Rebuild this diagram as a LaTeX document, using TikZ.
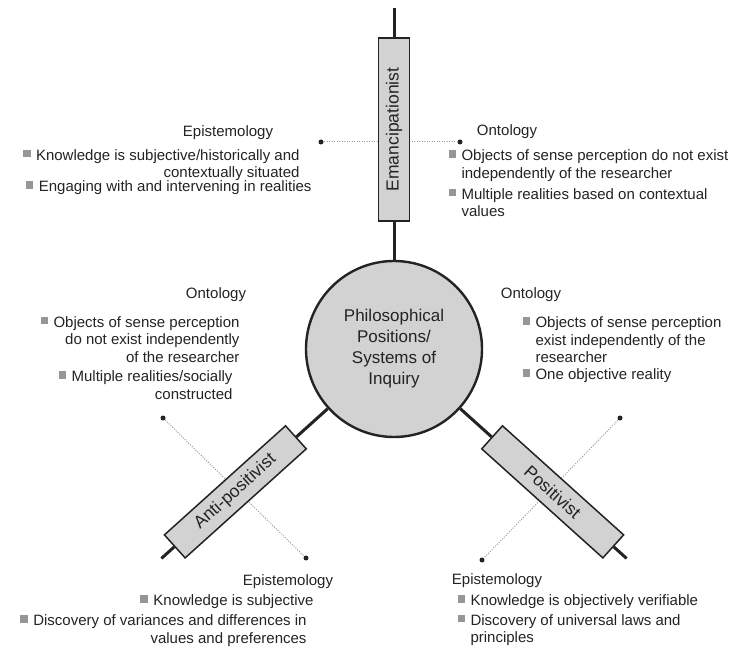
\documentclass[tikz,border=0pt]{standalone}
\usepackage{fontspec}
\setmainfont{Liberation Sans}
\usetikzlibrary{positioning, calc}
\definecolor{hubgray}{RGB}{210,210,210}
\definecolor{sqgray}{RGB}{150,150,150}
\definecolor{ink}{RGB}{35,35,35}
\newcommand{\Sq}{\textcolor{sqgray}{\rule[3pt]{7.5pt}{7.5pt}}\hspace{5.5pt}}
\newcommand{\SqGap}{\phantom{\Sq}}
\tikzset{
  every picture/.style={line width=1pt},
  hub/.style={draw=ink, circle, fill=hubgray, line width=2.4pt, minimum size=176pt, inner sep=0pt, align=center, text=ink, font=\fontsize{17}{21}\selectfont},
  pbox/.style={draw=ink, rectangle, fill=hubgray, line width=1.5pt, minimum height=31pt, inner sep=0pt, text=ink, font=\fontsize{17.5}{20}\selectfont},
  arm/.style={draw=ink, line width=3pt},
  dot/.style={circle, fill=ink, inner sep=0pt, minimum size=5pt},
  dotline/.style={draw=gray!80, dash pattern=on 1pt off 1.5pt, line width=1pt},
  head/.style={inner sep=0pt, text=ink, font=\fontsize{15}{17.5}\selectfont},
  item/.style={inner sep=0pt, text=ink, font=\fontsize{15}{17.5}\selectfont}
}

\begin{document}
\begin{tikzpicture}[x=1pt, y=1pt]
    \useasboundingbox (0,0) rectangle (738,648);

    \node [hub] (hub) at (394,299) {Philosophical\\Positions/\\Systems of\\Inquiry};

    % dotted crossings, under the boxes
    \node [dot] (ed1) at (321,506) {};
    \node [dot] (ed2) at (460,506) {};
    \node [dot] (ad1) at (163,230) {};
    \node [dot] (ad2) at (306,90) {};
    \node [dot] (pd1) at (620,230) {};
    \node [dot] (pd2) at (482,88) {};
    \draw [dotline] (ed1) -- (ed2);
    \draw [dotline] (ad1) -- (ad2);
    \draw [dotline] (pd1) -- (pd2);

    \node [pbox, minimum width=183pt, rotate=90] (emb) at ($(hub)+(90:219.5)$) {Emancipationist};
    \node [pbox, minimum width=163pt, rotate=42] (anti) at ($(hub)+(222:213.5)$) {Anti-positivist};
    \node [pbox, minimum width=163pt, rotate=-42] (pos) at ($(hub)+(318:213.5)$) {Positivist};

    \coordinate (etop) at ($(hub)+(90:341)$);
    \coordinate (aend) at ($(hub)+(222:313)$);
    \coordinate (pend) at ($(hub)+(318:313)$);

    \draw [arm] (hub) -- (emb);
    \draw [arm] (emb) -- (etop);
    \draw [arm] (hub) -- (anti);
    \draw [arm] (anti) -- (aend);
    \draw [arm] (hub) -- (pos);
    \draw [arm] (pos) -- (pend);

    % Emancipationist
    \node [head] (eh1) at (228,515) {Epistemology};
    \node [item, align=right, anchor=east] (e1a) at (300,483) {\Sq Knowledge is subjective/historically and\\contextually situated};
    \node [item, anchor=east] (e1b) at (312,460) {\Sq Engaging with and intervening in realities};
    \node [head] (oh1) at (507,516) {Ontology};
    \node [item, align=left, anchor=west] (o1a) at (448,482.5) {\Sq Objects of sense perception do not exist\\\SqGap independently of the researcher};
    \node [item, align=left, anchor=west] (o1b) at (448,445.5) {\Sq Multiple realities based on contextual\\\SqGap values};

    % Positivist
    \node [head] (oh2) at (531,353) {Ontology};
    \node [item, align=left, anchor=west] (o2a) at (522,308) {\Sq Objects of sense perception\\\SqGap exist independently of the\\\SqGap researcher};
    \node [item, anchor=west] (o2b) at (522,272) {\Sq One objective reality};
    \node [head] (eh2) at (497,67) {Epistemology};
    \node [item, anchor=west] (e2a) at (457,46) {\Sq Knowledge is objectively verifiable};
    \node [item, align=left, anchor=west] (e2b) at (457,18) {\Sq Discovery of universal laws and\\\SqGap principles};

    % Anti-positivist
    \node [head] (oh3) at (216,353) {Ontology};
    \node [item, align=right, anchor=east] (o3a) at (240,308.5) {\Sq Objects of sense perception\\do not exist independently\\of the researcher};
    \node [item, align=right, anchor=east] (o3b) at (233,263) {\Sq Multiple realities/socially\\constructed};
    \node [head] (eh3) at (288,66) {Epistemology};
    \node [item, anchor=east] (e3a) at (314,46) {\Sq Knowledge is subjective};
    \node [item, align=right, anchor=east] (e3b) at (307,17.5) {\Sq Discovery of variances and differences in\\values and preferences};
\end{tikzpicture}
\end{document}
